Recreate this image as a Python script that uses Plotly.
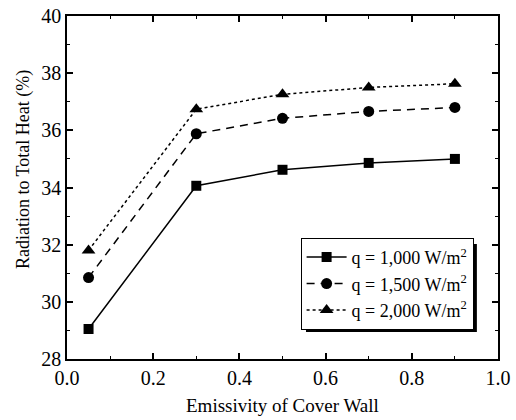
import plotly.graph_objects as go

emissivity = [0.05, 0.3, 0.5, 0.7, 0.9]
q1000 = [29.05, 34.06, 34.62, 34.86, 35.0]
q1500 = [30.85, 35.88, 36.42, 36.66, 36.8]
q2000 = [31.8, 36.74, 37.26, 37.5, 37.63]
names = ["q = 1,000 W/m<sup>2</sup>", "q = 1,500 W/m<sup>2</sup>", "q = 2,000 W/m<sup>2</sup>"]
x_title = "Emissivity of Cover Wall"
y_title = "Radiation to Total Heat (%)"

FONT = "Times New Roman"

fig = go.Figure()
fig.add_trace(go.Scatter(x=emissivity, y=q1000, name=names[0], mode="lines+markers",
                         line=dict(color="black", width=1.5),
                         marker=dict(symbol="square", size=10, color="black")))
fig.add_trace(go.Scatter(x=emissivity, y=q1500, name=names[1], mode="lines+markers",
                         line=dict(color="black", width=1.5, dash="8px,6px"),
                         marker=dict(symbol="circle", size=11, color="black")))
fig.add_trace(go.Scatter(x=emissivity, y=q2000, name=names[2], mode="lines+markers",
                         line=dict(color="black", width=1.5, dash="3px,3px"),
                         marker=dict(symbol="triangle-up", size=12, color="black")))

common = dict(showline=True, linecolor="black", linewidth=1.5, mirror="ticks",
              ticks="inside", ticklen=6, tickwidth=1.5, tickcolor="black",
              showgrid=False, zeroline=False, automargin=False,
              tickfont=dict(family=FONT, size=20, color="black"))

fig.update_layout(
    width=516, height=420,
    margin=dict(l=67, r=18, t=16, b=61, autoexpand=False),
    plot_bgcolor="white", paper_bgcolor="white",
    font=dict(family=FONT, color="black", size=20),
    showlegend=True,
    xaxis=dict(range=[0, 1.0], dtick=0.2, tickformat=".1f",
               minor=dict(dtick=0.1, ticks="inside", ticklen=3, tickwidth=1.2, tickcolor="black"),
               **common),
    yaxis=dict(range=[28, 40], dtick=2,
               minor=dict(dtick=1, ticks="inside", ticklen=3, tickwidth=1.2, tickcolor="black"),
               **common),
    legend=dict(x=0.542, y=0.353, xanchor="left", yanchor="top",
                bgcolor="white", bordercolor="black", borderwidth=1,
                font=dict(family=FONT, size=18, color="black"),
                itemwidth=40),
    shapes=[dict(type="rect", xref="paper", yref="paper", x0=0.5545, x1=0.951, y0=0.0787, y1=0.335,
                 fillcolor="black", line=dict(width=0), layer="above")],
    annotations=[
        dict(text=x_title, xref="paper", yref="paper", x=0.5, y=-0.136,
             xanchor="center", yanchor="middle", showarrow=False,
             font=dict(family=FONT, size=19, color="black")),
        dict(text=y_title, xref="paper", yref="paper", x=-0.102, y=0.551,
             xanchor="center", yanchor="middle", showarrow=False, textangle=-90,
             font=dict(family=FONT, size=18, color="black")),
    ],
)

fig.write_html("out.html")
